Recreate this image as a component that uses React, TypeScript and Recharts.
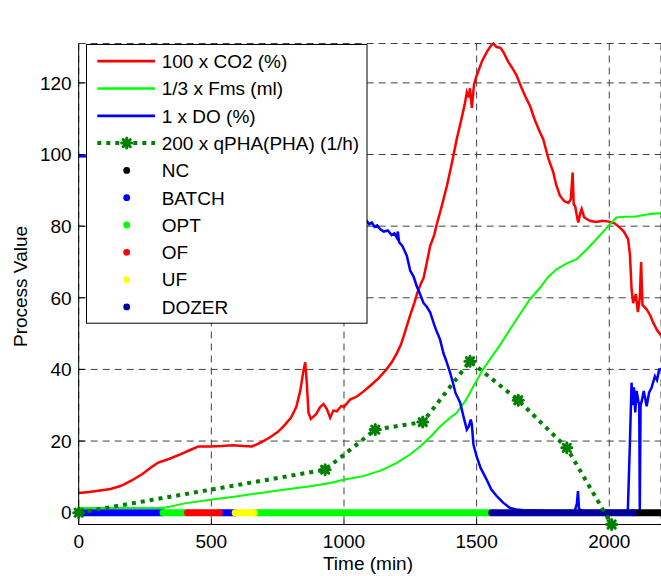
import React from 'react';
import { LineChart, Line, XAxis, YAxis, CartesianGrid, Label } from 'recharts';

// ---------------- data ----------------
const xTicks = [0, 500, 1000, 1500, 2000];
const yTicks = [0, 20, 40, 60, 80, 100, 120];
const X_MAX = 2195;
const Y_MIN = -3.3;
const Y_MAX = 131;

const co2Time = [0, 40, 80, 120, 160, 200, 240, 280, 300, 340, 383, 420, 452, 494, 540, 580, 620, 653, 684, 720, 750, 772, 800, 820, 835, 848, 854, 860, 866, 875, 895, 910, 923, 935, 948, 960, 973, 990, 1000, 1023, 1050, 1073, 1100, 1130, 1160, 1180, 1199, 1215, 1230, 1249, 1265, 1277, 1290, 1300, 1310, 1325, 1340, 1350, 1370, 1388, 1405, 1425, 1440, 1455, 1463, 1470, 1475, 1482, 1490, 1500, 1520, 1538, 1555, 1563, 1575, 1590, 1601, 1620, 1640, 1651, 1670, 1685, 1701, 1720, 1740, 1751, 1770, 1789, 1800, 1814, 1830, 1846, 1855, 1862, 1866, 1871, 1880, 1883, 1890, 1896, 1905, 1915, 1927, 1950, 1975, 2003, 2020, 2040, 2055, 2071, 2078, 2084, 2090, 2100, 2108, 2115, 2120, 2125, 2141, 2155, 2166, 2180, 2195];
const co2Value = [5.5, 5.8, 6.2, 6.6, 7.5, 9.0, 10.8, 13.0, 14.0, 15.0, 16.3, 17.5, 18.5, 18.5, 18.6, 18.8, 18.6, 18.5, 19.5, 21.0, 22.5, 24.1, 26.5, 29.5, 34, 40, 42, 36, 28, 26.2, 27.5, 29.5, 30.3, 29, 26.5, 28.5, 28.3, 29.8, 29.5, 31.6, 32.5, 33.8, 35.5, 37.5, 40, 42, 44.5, 47, 50.5, 55, 58.5, 61.5, 64, 65.5, 69, 74.5, 77.5, 80.6, 86, 91.3, 97, 104.3, 109, 114, 117.4, 116, 118.5, 113, 119.5, 122, 126, 128.6, 130.5, 131, 130, 129.8, 128.6, 125.8, 123.5, 122, 118.5, 116, 113.6, 109.5, 106, 104.3, 99, 95, 91.5, 88.5, 87, 86.5, 87.5, 95, 86, 85.7, 82, 81, 83.5, 84.8, 82.5, 82, 81.5, 81.2, 81.5, 81.2, 80.8, 79.6, 78.5, 76.4, 72, 62.4, 58.5, 61, 56, 60, 70, 58, 56.8, 55, 53, 51, 49.5];

const fmsTime = [0, 100, 200, 320, 400, 496, 600, 684, 780, 873, 948, 998, 1073, 1140, 1199, 1250, 1287, 1330, 1362, 1400, 1425, 1460, 1488, 1520, 1550, 1590, 1626, 1665, 1701, 1739, 1770, 1802, 1840, 1877, 1915, 1952, 1990, 2027, 2060, 2100, 2153, 2195];
const fmsValue = [1.3, 1.3, 1.3, 1.3, 2.6, 3.6, 4.6, 5.5, 6.5, 7.4, 8.3, 9.2, 10.2, 11.8, 13.9, 16.3, 18.5, 21.5, 24.1, 26.5, 27.9, 31.5, 35.3, 39.5, 42.8, 47, 51.2, 55.6, 59.6, 62.8, 65.8, 68, 69.6, 70.8, 73.5, 76.4, 79.5, 82.4, 82.6, 82.7, 83.4, 83.6];

const doTime = [0, 200, 500, 800, 1000, 1086, 1095, 1105, 1115, 1125, 1136, 1150, 1165, 1180, 1190, 1199, 1203, 1208, 1220, 1237, 1250, 1262, 1274, 1287, 1300, 1312, 1325, 1340, 1350, 1362, 1375, 1385, 1400, 1410, 1420, 1438, 1450, 1463, 1470, 1478, 1482, 1488, 1500, 1515, 1538, 1555, 1576, 1600, 1626, 1650, 1676, 1720, 1800, 1870, 1878, 1882, 1886, 1900, 2000, 2070, 2078, 2084, 2088, 2093, 2098, 2103, 2110, 2113, 2115, 2118, 2122, 2130, 2141, 2150, 2160, 2172, 2180, 2188, 2195];
const doValue = [99.5, 99.3, 98, 92, 85, 81.5, 80.5, 81, 79.8, 80.2, 79.2, 78.5, 78.8, 77.5, 78, 76.8, 78.5, 75.5, 74.5, 71.7, 67.5, 66, 63.3, 61, 58.5, 57.5, 55.9, 52.5, 50.5, 48.4, 44.5, 42.5, 39.1, 36.5, 33.5, 30.7, 27, 23.2, 24, 26, 24.6, 19, 15.7, 12.5, 9.2, 6.5, 4.6, 2.8, 1.3, 0.9, 0.7, 0.6, 0.5, 0.5, 2.5, 6, 1, 0.5, 0.5, 0.5, 20, 36.3, 30, 35, 28, 34, 31, 30, 0.5, 30, 31, 34, 29.7, 33.5, 35, 38.1, 37, 40, 40];

const qphaTime = [0, 929, 1118, 1297, 1475, 1657, 1840, 2009];
const qphaValue = [0, 12, 23.2, 25.3, 42.3, 31.4, 18.1, -3.3];

const stateNames = ['NC', 'BATCH', 'OPT', 'OF', 'UF', 'DOZER'];
const stateColors = ['#000000', '#0000ff', '#00ff00', '#ff0000', '#ffff00', '#00009c'];
const stateNC = [[2090, 2195]];
const stateBATCH = [[0, 318], [532, 590]];
const stateOPT = [[318, 410], [662, 1557]];
const stateOF = [[410, 530]];
const stateUF = [[590, 662]];
const stateDOZER = [[1557, 2090]];
const stateSegments = [stateNC, stateBATCH, stateOPT, stateOF, stateUF, stateDOZER];

const seriesNames = ['100 x CO2 (%)', '1/3 x Fms (ml)', '1 x DO (%)', '200 x qPHA(PHA) (1/h)'];
const seriesColors = ['#ff0000', '#00ff00', '#0000ff', '#008000'];

// ---------------- helpers ----------------
const zip = (t: number[], v: number[]) => t.map((x, i) => ({ t: x, v: v[i] }));
const segData = (segs: number[][]) => {
  const out: { t: number; v: number | null }[] = [];
  segs.forEach(([a, b], i) => {
    if (i > 0) out.push({ t: (segs[i - 1][1] + a) / 2, v: null });
    out.push({ t: a, v: 0 }, { t: b, v: 0 });
  });
  return out;
};

const co2Data = zip(co2Time, co2Value);
const fmsData = zip(fmsTime, fmsValue);
const doData = zip(doTime, doValue);
const qphaData = zip(qphaTime, qphaValue);

const FONT = '"Liberation Sans", Arial, Helvetica, sans-serif';

const Star = ({ cx, cy, color }: { cx: number; cy: number; color: string }) => (
  <g stroke={color} strokeWidth={3} strokeLinecap="round" fill="none">
    <line x1={cx - 5} y1={cy} x2={cx + 5} y2={cy} />
    <line x1={cx} y1={cy - 5} x2={cx} y2={cy + 5} />
    <line x1={cx - 3.6} y1={cy - 3.6} x2={cx + 3.6} y2={cy + 3.6} />
    <line x1={cx - 3.6} y1={cy + 3.6} x2={cx + 3.6} y2={cy - 3.6} />
    <circle cx={cx} cy={cy} r={3.6} fill={color} stroke="none" />
  </g>
);

const renderQphaDot = (props: any) => {
  const { cx, cy, index } = props;
  if (cx == null || cy == null) return <g key={`q-${index}`} />;
  return <Star key={`q-${index}`} cx={cx} cy={cy} color={seriesColors[3]} />;
};

const XTitle = () => (
  <text x={368} y={570} textAnchor="middle" fontSize={19} fontFamily={FONT} fill="#000">
    Time (min)
  </text>
);

const ChartTitle = () => (
  <text x={370} y={29} textAnchor="middle" fontSize={19} fontFamily={FONT} fill="#000">
    Experiment 100513
  </text>
);

const YTitle = () => {
  const x = 27;
  const y = 286.5;
  return (
    <text x={x} y={y} transform={`rotate(-90 ${x} ${y})`} textAnchor="middle" fontSize={19} fontFamily={FONT} fill="#000">
      Process Value
    </text>
  );
};

const LegendBox = () => {
  const rowY = (i: number) => 17.2 + i * 27.3;
  return (
    <svg width={282} height={281} style={{ position: 'absolute', left: 86, top: 43.5 }}>
      <rect x={0.5} y={0.5} width={280.5} height={278.7} fill="#fff" stroke="#000" strokeWidth={1} />
      {seriesNames.map((name, i) => (
        <g key={name}>
          {i < 3 ? (
            <line x1={11.3} x2={69} y1={rowY(i)} y2={rowY(i)} stroke={seriesColors[i]} strokeWidth={2.7} />
          ) : (
            <g>
              <line x1={11.3} x2={69} y1={rowY(i)} y2={rowY(i)} stroke={seriesColors[i]} strokeWidth={4} strokeDasharray="4 5" />
              <Star cx={40.7} cy={rowY(i)} color={seriesColors[i]} />
            </g>
          )}
          <text x={75.7} y={rowY(i) + 6.8} fontSize={19} fontFamily={FONT} fill="#000">{name}</text>
        </g>
      ))}
      {stateNames.map((name, j) => {
        const i = j + 4;
        return (
          <g key={name}>
            <circle cx={40.7} cy={rowY(i)} r={3.4} fill={stateColors[j]} />
            <text x={75.7} y={rowY(i) + 6.8} fontSize={19} fontFamily={FONT} fill="#000">{name}</text>
          </g>
        );
      })}
    </svg>
  );
};

export default function App() {
  const tickStyle = { fill: '#000', fontSize: 19, fontFamily: FONT };
  return (
    <div style={{ position: 'absolute', left: 0, top: 0, width: 661, height: 576, overflow: 'hidden', background: '#fff', fontFamily: FONT }}>
      <LineChart width={661} height={576} margin={{ top: 43.5, right: 0, bottom: 11.5, left: 18.7 }}>
        <CartesianGrid stroke="#404040" strokeDasharray="7 5" strokeWidth={1} />
        <XAxis
          type="number"
          dataKey="t"
          domain={[0, X_MAX]}
          ticks={xTicks}
          height={40}
          tickSize={-6}
          tickMargin={16}
          axisLine={{ stroke: '#000' }}
          tickLine={{ stroke: '#000' }}
          tick={tickStyle}
        >
          <Label content={<XTitle />} />
        </XAxis>
        <XAxis
          xAxisId="top"
          orientation="top"
          type="number"
          dataKey="t"
          domain={[0, X_MAX]}
          ticks={xTicks}
          height={0}
          tick={false}
          tickSize={-6}
          axisLine={{ stroke: '#000' }}
        >
          <Label content={<ChartTitle />} />
        </XAxis>
        <YAxis
          type="number"
          domain={[Y_MIN, Y_MAX]}
          ticks={yTicks}
          width={60}
          tickSize={-6}
          tickMargin={13}
          axisLine={{ stroke: '#000' }}
          tickLine={{ stroke: '#000' }}
          tick={tickStyle}
        >
          <Label content={<YTitle />} />
        </YAxis>
        <Line data={co2Data} dataKey="v" stroke={seriesColors[0]} strokeWidth={2.5} dot={false} activeDot={false} isAnimationActive={false} />
        <Line data={fmsData} dataKey="v" stroke={seriesColors[1]} strokeWidth={2} dot={false} activeDot={false} isAnimationActive={false} />
        <Line data={doData} dataKey="v" stroke={seriesColors[2]} strokeWidth={2.5} dot={false} activeDot={false} isAnimationActive={false} />
        {stateSegments.map((segs, j) => (
          <Line
            key={stateNames[j]}
            data={segData(segs)}
            dataKey="v"
            stroke={stateColors[j]}
            strokeWidth={7}
            strokeLinecap="round"
            dot={false}
            activeDot={false}
            connectNulls={false}
            isAnimationActive={false}
          />
        ))}
        <Line data={qphaData} dataKey="v" stroke={seriesColors[3]} strokeWidth={4} strokeDasharray="4 5" dot={renderQphaDot} activeDot={false} isAnimationActive={false} />
      </LineChart>
      <LegendBox />
    </div>
  );
}
